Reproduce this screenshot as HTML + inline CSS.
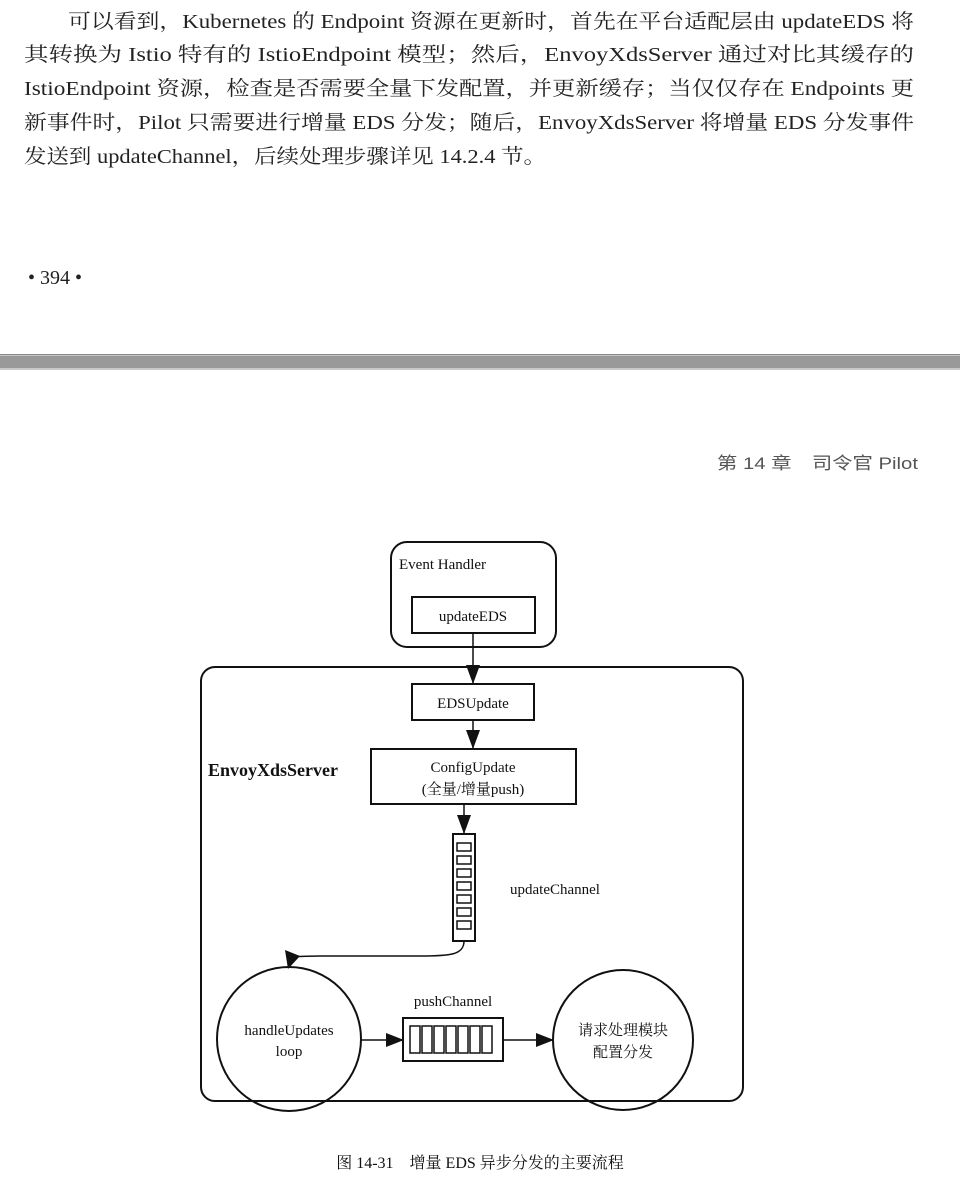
<!DOCTYPE html>
<html><head><meta charset="utf-8"><style>
html,body{margin:0;padding:0;background:#fff;}
svg{display:block;}
</style></head><body>
<svg width="960" height="1188" viewBox="0 0 960 1188" xmlns="http://www.w3.org/2000/svg">
<defs>
<marker id="a" markerWidth="18" markerHeight="14" refX="17" refY="7" orient="auto" markerUnits="userSpaceOnUse"><path d="M0,0 L18,7 L0,14 z" fill="#111"/></marker>
<marker id="ad" markerWidth="14" markerHeight="20" refX="7" refY="19" orient="0" markerUnits="userSpaceOnUse"><path d="M0,0 L14,0 L7,19 z" fill="#111"/></marker>
</defs>
<g font-family="'Liberation Serif','Noto Serif CJK SC',serif" font-size="20" fill="#222">
<text x="68" y="28" textLength="846" lengthAdjust="spacingAndGlyphs">可以看到，Kubernetes 的 Endpoint 资源在更新时，首先在平台适配层由 updateEDS 将</text>
<text x="24" y="61" textLength="890" lengthAdjust="spacingAndGlyphs">其转换为 Istio 特有的 IstioEndpoint 模型；然后，EnvoyXdsServer 通过对比其缓存的</text>
<text x="24" y="95" textLength="890" lengthAdjust="spacingAndGlyphs">IstioEndpoint 资源，检查是否需要全量下发配置，并更新缓存；当仅仅存在 Endpoints 更</text>
<text x="24" y="129" textLength="890" lengthAdjust="spacingAndGlyphs">新事件时，Pilot 只需要进行增量 EDS 分发；随后，EnvoyXdsServer 将增量 EDS 分发事件</text>
<text x="24" y="163" textLength="522" lengthAdjust="spacingAndGlyphs">发送到 updateChannel，后续处理步骤详见 14.2.4 节。</text>
<text x="28" y="284">• 394 •</text>
</g>
<rect x="0" y="354" width="960" height="16" fill="#c8c8c8"/>
<rect x="0" y="354" width="960" height="1" fill="#888"/>
<rect x="0" y="356" width="960" height="12" fill="#999"/>
<text x="918" y="469" text-anchor="end" font-family="'Liberation Sans','Noto Sans CJK SC',sans-serif" font-size="17" fill="#555" textLength="201" lengthAdjust="spacingAndGlyphs">第 14 章　司令官 Pilot</text>

<g fill="none" stroke="#111" stroke-width="2">
<rect x="391" y="542" width="165" height="105" rx="16"/>
<rect x="412" y="597" width="123" height="36"/>
<rect x="201" y="667" width="542" height="434" rx="14"/>
<rect x="412" y="684" width="122" height="36"/>
<rect x="371" y="749" width="205" height="55"/>
<rect x="453" y="834" width="22" height="107"/>
<rect x="403" y="1018" width="100" height="43"/>
<circle cx="289" cy="1039" r="72"/>
<circle cx="623" cy="1040" r="70"/>
</g>
<g fill="none" stroke="#111" stroke-width="1.5">
<rect x="457" y="843" width="14" height="8"/><rect x="457" y="856" width="14" height="8"/><rect x="457" y="869" width="14" height="8"/><rect x="457" y="882" width="14" height="8"/><rect x="457" y="895" width="14" height="8"/><rect x="457" y="908" width="14" height="8"/><rect x="457" y="921" width="14" height="8"/>
<rect x="410" y="1026" width="10" height="27"/><rect x="422" y="1026" width="10" height="27"/><rect x="434" y="1026" width="10" height="27"/><rect x="446" y="1026" width="10" height="27"/><rect x="458" y="1026" width="10" height="27"/><rect x="470" y="1026" width="10" height="27"/><rect x="482" y="1026" width="10" height="27"/>
</g>
<g stroke="#111" stroke-width="1.5" fill="none">
<line x1="473" y1="633" x2="473" y2="684" marker-end="url(#ad)"/>
<line x1="473" y1="720" x2="473" y2="749" marker-end="url(#ad)"/>
<line x1="464" y1="804" x2="464" y2="834" marker-end="url(#ad)"/>
<path d="M464,941 C464,955 450,956 420,956 L320,956 C302,956 294,958 291,954"/>
<line x1="361" y1="1040" x2="403" y2="1040" marker-end="url(#a)"/>
<line x1="503" y1="1040" x2="553" y2="1040" marker-end="url(#a)"/>
</g>
<path d="M285,950 L300,956 L288,969 z" fill="#111"/>
<g font-family="'Liberation Serif','Noto Serif CJK SC',serif" font-size="15" fill="#111">
<text x="399" y="569">Event Handler</text>
<text x="473" y="621" text-anchor="middle">updateEDS</text>
<text x="473" y="708" text-anchor="middle">EDSUpdate</text>
<text x="473" y="772" text-anchor="middle">ConfigUpdate</text>
<text x="473" y="794" text-anchor="middle">(全量/增量push)</text>
<text x="510" y="894">updateChannel</text>
<text x="453" y="1006" text-anchor="middle">pushChannel</text>
<text x="289" y="1035" text-anchor="middle">handleUpdates</text>
<text x="289" y="1056" text-anchor="middle">loop</text>
<text x="623" y="1035" text-anchor="middle">请求处理模块</text>
<text x="623" y="1057" text-anchor="middle">配置分发</text>
<text x="208" y="776" font-weight="bold" font-size="18">EnvoyXdsServer</text>
<text x="480" y="1168" text-anchor="middle" font-size="16">图 14-31　增量 EDS 异步分发的主要流程</text>
</g>
</svg>
</body></html>
